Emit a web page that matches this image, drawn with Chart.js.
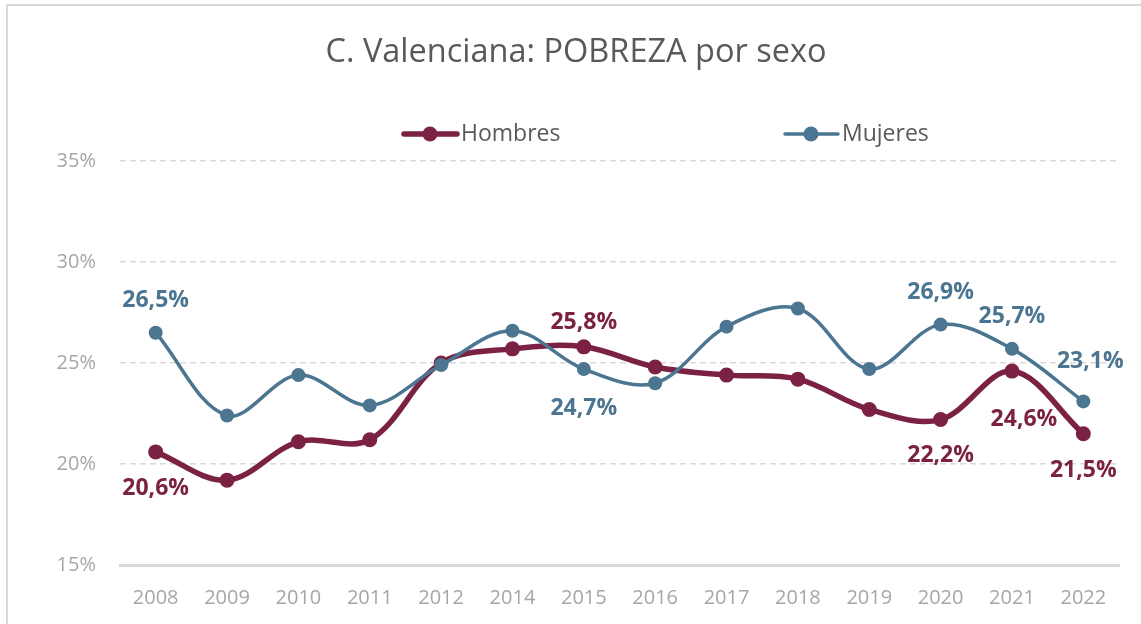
<!DOCTYPE html>
<html>
<head>
<meta charset="utf-8">
<title>C. Valenciana: POBREZA por sexo</title>
<script src="https://cdn.jsdelivr.net/npm/chart.js@4.4.1/dist/chart.umd.min.js"></script>
<style>
  html, body { margin: 0; padding: 0; background: #fff; }
  #myChart { display: block; }
</style>
</head>
<body>
<canvas id="myChart" width="1141" height="624"></canvas>
<script>
// data
var years = ['2008', '2009', '2010', '2011', '2012', '2014', '2015', '2016', '2017', '2018', '2019', '2020', '2021', '2022'];
var hombres = [20.6, 19.2, 21.1, 21.2, 25.0, 25.7, 25.8, 24.8, 24.4, 24.2, 22.7, 22.2, 24.6, 21.5];
var mujeres = [26.5, 22.4, 24.4, 22.9, 24.9, 26.6, 24.7, 24.0, 26.8, 27.7, 24.7, 26.9, 25.7, 23.1];
var yMin = 15, yMax = 35, yStep = 5;

var colorH = '#7b2143';
var colorM = '#4b7591';
var grey = '#a6a6a6';

// which points carry a value label, and where it sits (offset from the point)
var labelSpots = [
  { ds: 1, i: 0, dx: 0, dy: -32 },
  { ds: 0, i: 0, dx: 0, dy: 37 },
  { ds: 0, i: 6, dx: 0, dy: -24 },
  { ds: 1, i: 6, dx: 0, dy: 39 },
  { ds: 1, i: 11, dx: 0, dy: -32 },
  { ds: 0, i: 11, dx: 0, dy: 36 },
  { ds: 1, i: 12, dx: 0, dy: -32 },
  { ds: 0, i: 12, dx: 12, dy: 48 },
  { ds: 1, i: 13, dx: 7, dy: -40 },
  { ds: 0, i: 13, dx: 0, dy: 37 }
];

function fmtPct (v) {
  return v.toFixed(1).replace('.', ',') + '%';
}

// light frame around the whole chart
var framePlugin = {
  id: 'frame',
  beforeDraw: function (chart) {
    var ctx = chart.ctx;
    ctx.save();
    ctx.fillStyle = '#fff';
    ctx.fillRect(0, 0, chart.width, chart.height);
    ctx.strokeStyle = '#d9d9d9';
    ctx.lineWidth = 2;
    ctx.strokeRect(7, 5, chart.width + 20, chart.height + 20);
    ctx.restore();
  }
};

// value labels on selected points
var labelsPlugin = {
  id: 'pointLabels',
  afterDatasetsDraw: function (chart) {
    var ctx = chart.ctx;
    ctx.save();
    ctx.font = 'bold 23px "Open Sans"';
    ctx.textAlign = 'center';
    ctx.textBaseline = 'middle';
    labelSpots.forEach(function (s) {
      var ds = chart.data.datasets[s.ds];
      var pt = chart.getDatasetMeta(s.ds).data[s.i];
      ctx.fillStyle = ds.borderColor;
      ctx.fillText(fmtPct(ds.data[s.i]), pt.x + s.dx, pt.y + s.dy);
    });
    ctx.restore();
  }
};

// legend with two spread-out entries, like the original
var legendPlugin = {
  id: 'spreadLegend',
  afterDraw: function (chart) {
    var ctx = chart.ctx;
    var y = 134;
    var items = [
      { ds: 0, x: 402 },
      { ds: 1, x: 783 }
    ];
    ctx.save();
    items.forEach(function (it) {
      var ds = chart.data.datasets[it.ds];
      ctx.strokeStyle = ds.borderColor;
      ctx.fillStyle = ds.borderColor;
      ctx.lineWidth = ds.borderWidth;
      ctx.lineCap = 'round';
      ctx.beginPath();
      ctx.moveTo(it.x + 2, y);
      ctx.lineTo(it.x + 55, y);
      ctx.stroke();
      ctx.beginPath();
      ctx.arc(it.x + 28, y, 7.5, 0, Math.PI * 2);
      ctx.fill();
      ctx.fillStyle = '#595959';
      ctx.font = '23px "Open Sans"';
      ctx.textAlign = 'left';
      ctx.textBaseline = 'middle';
      ctx.fillText(ds.label, it.x + 59, y);
    });
    ctx.restore();
  }
};

function renderChart () {
  var ctx = document.getElementById('myChart').getContext('2d');
  var myChart = new Chart(ctx, {
    type: 'line',
    data: {
      labels: years,
      datasets: [{
        label: 'Hombres',
        data: hombres,
        borderColor: colorH,
        backgroundColor: colorH,
        borderWidth: 5.5,
        pointRadius: 7.5,
        pointHoverRadius: 7.5,
        pointBorderWidth: 0,
        pointBackgroundColor: colorH,
        tension: 0.35,
        order: 2
      }, {
        label: 'Mujeres',
        data: mujeres,
        borderColor: colorM,
        backgroundColor: colorM,
        borderWidth: 3.5,
        pointRadius: 7,
        pointHoverRadius: 7,
        pointBorderWidth: 0,
        pointBackgroundColor: colorM,
        tension: 0.35,
        order: 1
      }]
    },
    options: {
      responsive: false,
      devicePixelRatio: 1,
      animation: false,
      // left padding nudges the title centre to where the original has it
      layout: { padding: { left: 33, right: 22, top: 0, bottom: 0 } },
      plugins: {
        legend: { display: false },
        tooltip: { enabled: false },
        title: {
          display: true,
          text: 'C. Valenciana: POBREZA por sexo',
          color: '#595959',
          font: { family: '"Open Sans"', size: 32.5, weight: 'normal' },
          padding: { top: 33, bottom: 89 }
        }
      },
      scales: {
        x: {
          offset: true,
          grid: { display: false, drawTicks: false },
          border: { display: true, color: '#d9d9d9', width: 3 },
          ticks: { color: grey, font: { family: '"Open Sans"', size: 20 }, padding: 21, maxRotation: 0 },
          afterFit: function (scale) { scale.height = 59; }
        },
        y: {
          min: yMin,
          max: yMax,
          grid: {
            drawTicks: false,
            lineWidth: 1.5,
            color: function (c) { return c.tick && c.tick.value === yMin ? 'rgba(0,0,0,0)' : '#d9d9d9'; }
          },
          border: { display: false, dash: [6, 4] },
          ticks: {
            stepSize: yStep,
            color: grey,
            font: { family: '"Open Sans"', size: 20 },
            padding: 24,
            callback: function (v) { return v + '%'; }
          },
          afterFit: function (scale) { scale.width = 87; }
        }
      }
    },
    plugins: [framePlugin, labelsPlugin, legendPlugin]
  });
  return myChart;
}

renderChart();
</script>
</body>
</html>
